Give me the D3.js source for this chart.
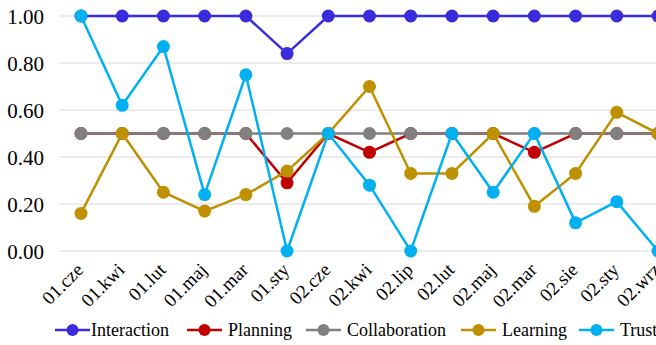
<!DOCTYPE html>
<html><head><meta charset="utf-8">
<script src="https://cdn.jsdelivr.net/npm/d3@7"></script>
<style>html,body{margin:0;padding:0;background:#fff;overflow:hidden}</style>
</head><body>
<svg id="c" width="656" height="345"></svg>
<script>
const categories = ["01.cze","01.kwi","01.lut","01.maj","01.mar","01.sty","02.cze","02.kwi","02.lip","02.lut","02.maj","02.mar","02.sie","02.sty","02.wrz"];
const interaction   = [1,1,1,1,1,0.84,1,1,1,1,1,1,1,1,1];
const planning      = [0.5,0.5,0.5,0.5,0.5,0.29,0.5,0.42,0.5,0.5,0.5,0.42,0.5,0.5,0.5];
const collaboration = [0.5,0.5,0.5,0.5,0.5,0.5,0.5,0.5,0.5,0.5,0.5,0.5,0.5,0.5,0.5];
const learning      = [0.16,0.5,0.25,0.17,0.24,0.34,0.5,0.7,0.33,0.33,0.5,0.19,0.33,0.59,0.5];
const trust         = [1,0.62,0.87,0.24,0.75,0,0.5,0.28,0,0.5,0.25,0.5,0.12,0.21,0];
const seriesNames = ["Interaction","Planning","Collaboration","Learning","Trust"];
const yTicks = [0,0.2,0.4,0.6,0.8,1.0];

const colors = ["#3a2bdc","#c00000","#808080","#bf9000","#00b0f0"];
const series = [interaction,planning,collaboration,learning,trust];
const FONT = '"Liberation Serif"';

const svg = d3.select("#c").style("font-family", FONT);
const x = d3.scalePoint().domain(categories).range([81,658]);
const y = d3.scaleLinear().domain([0,1]).range([251,16]);

// gridlines
svg.append("g").selectAll("line").data(yTicks).join("line")
  .attr("x1",59).attr("x2",656).attr("y1",d=>y(d)).attr("y2",d=>y(d))
  .attr("stroke","#d9d9d9").attr("stroke-width",1.2);

// y axis
const ya = svg.append("g").attr("transform","translate(44,0)")
  .call(d3.axisLeft(y).tickValues(yTicks).tickFormat(d3.format(".2f")).tickSize(0).tickPadding(0));
ya.attr("font-family",null).attr("font-size",null);
ya.select(".domain").remove();
ya.selectAll("text").style("font-family",FONT).style("font-size","21px").attr("fill","#000").attr("dy","0.35em");

// x axis
const xa = svg.append("g").attr("transform","translate(0,251)")
  .call(d3.axisBottom(x).tickSize(0).tickPadding(0));
xa.attr("font-family",null).attr("font-size",null);
xa.select(".domain").remove();
xa.selectAll("text").style("font-family",FONT).style("font-size","19px").attr("fill","#000")
  .attr("text-anchor","end").attr("dy",null).attr("y",0)
  .attr("transform","translate(3,20) rotate(-45)");

// series
const line = d3.line().x((d,i)=>x(categories[i])).y(d=>y(d));
series.forEach((s,k)=>{
  const g = svg.append("g");
  g.append("path").datum(s).attr("d",line).attr("fill","none")
    .attr("stroke",colors[k]).attr("stroke-width",2.5);
  g.selectAll("circle").data(s).join("circle")
    .attr("cx",(d,i)=>x(categories[i])).attr("cy",d=>y(d)).attr("r",6.5)
    .attr("fill",colors[k]);
});

// legend
const legX = [55,187,306,461,579];
const lg = svg.append("g");
seriesNames.forEach((n,k)=>{
  const g = lg.append("g").attr("transform",`translate(${legX[k]},330)`);
  g.append("line").attr("x1",0).attr("x2",35).attr("y1",0).attr("y2",0)
    .attr("stroke",colors[k]).attr("stroke-width",2.5);
  g.append("circle").attr("cx",17.5).attr("cy",0).attr("r",6).attr("fill",colors[k]);
  g.append("text").attr("x",k===0?36:41).attr("y",0).attr("dy","0.35em")
    .style("font-family",FONT).style("font-size","18px").attr("fill","#000").text(n);
});
</script>
</body></html>
